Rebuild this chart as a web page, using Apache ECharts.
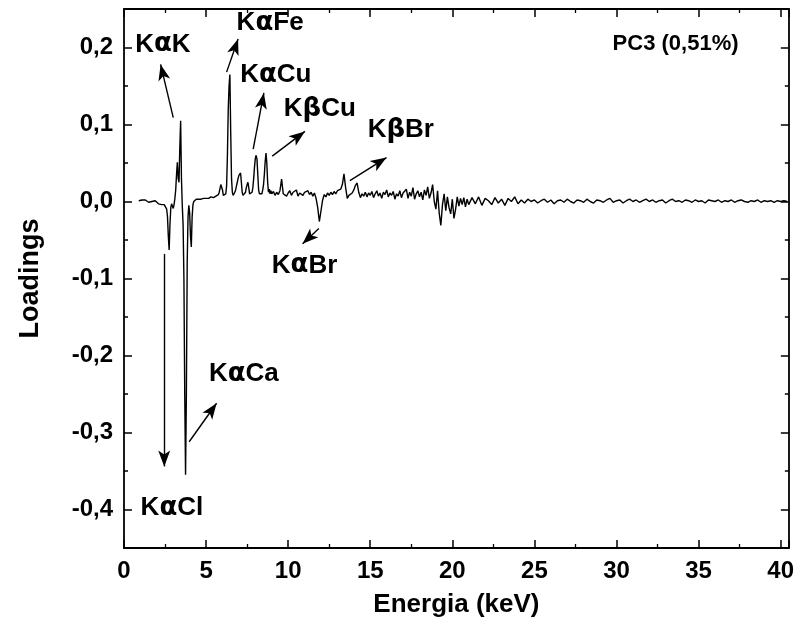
<!DOCTYPE html>
<html lang="en">
<head>
<meta charset="UTF-8">
<title>PC3 loadings</title>
<script src="https://cdn.jsdelivr.net/npm/echarts@6/dist/echarts.min.js"></script>
<style>body{margin:0;background:#fff;}</style>
</head>
<body>
<div id="main" style="width:797px;height:634px;"></div>
<script>
// spectrum in four pieces (start energy, step in keV, loadings)
const startA = 0.9, stepA = 0.1;
const loadingsA = [0.001, -0.001, 0.002, 0.000, 0.002, 0.001, -0.001, 0.001, 0.000, -0.002,
    0.001, 0.000, -0.003, -0.002, -0.004];

const startB = 2.35, stepB = 0.05;
const loadingsB = [
    -0.003, -0.002, -0.004, -0.003, -0.006, -0.010, -0.020, -0.045, -0.063, -0.030,
    -0.008, -0.003, -0.005, -0.009, -0.004, 0.004, 0.015, 0.035, 0.051, 0.030,
    0.025, 0.070, 0.105, 0.030, -0.005, -0.030, -0.100, -0.250, -0.355, -0.250,
    -0.080, -0.020, -0.005, -0.015, -0.045, -0.059, -0.020, -0.004, 0.000, 0.002,
    0.001, 0.003, 0.002, 0.004, 0.003, 0.001, 0.004, 0.003, 0.005, 0.002,
    0.004, 0.003, 0.005, 0.004, 0.002, 0.006, 0.004, 0.005, 0.003, 0.006,
    0.004, 0.007, 0.005, 0.006, 0.004, 0.007, 0.006, 0.008, 0.009, 0.012,
    0.017, 0.022, 0.023, 0.015, 0.008, 0.006, 0.007, 0.010, 0.020, 0.060,
    0.120, 0.150, 0.165, 0.090, 0.030, 0.012, 0.008, 0.010, 0.012, 0.015,
    0.020, 0.025, 0.030, 0.034, 0.035, 0.037, 0.025, 0.012, 0.008, 0.010,
    0.009, 0.012, 0.018, 0.022, 0.025, 0.018, 0.010, 0.008, 0.010, 0.012,
    0.018, 0.030, 0.045, 0.056, 0.060, 0.055, 0.035, 0.015, 0.010, 0.008,
    0.012, 0.010, 0.015, 0.022, 0.035, 0.052, 0.063, 0.050, 0.025, 0.012,
    0.016, 0.010, 0.014, 0.010
];

const startC = 9.1, stepC = 0.1;
const loadingsC = [
    0.013, 0.008, 0.012, 0.009, 0.014, 0.029, 0.010, 0.012, 0.007, 0.011,
    0.014, 0.008, 0.012, 0.010, 0.015, 0.007, 0.011, 0.013, 0.008, 0.012,
    0.010, 0.014, 0.009, 0.012, 0.007, 0.011, 0.004, -0.008, -0.026, -0.012,
    0.002, 0.009, 0.006, 0.011, 0.008, 0.012, 0.009, 0.013, 0.010, 0.014,
    0.012, 0.016, 0.022, 0.036, 0.018, 0.004, 0.008, 0.006, 0.011, 0.015,
    0.021, 0.024, 0.012, 0.005, 0.010, 0.007, 0.012, 0.006, 0.011, 0.008,
    0.013, 0.005, 0.010, 0.014, 0.007, 0.011, 0.004, 0.012, 0.009, 0.015,
    0.006, 0.011, 0.008, 0.013, 0.003, 0.010, 0.007, 0.014, 0.005, 0.011,
    0.009, 0.016, 0.004, 0.012, 0.007, 0.018, 0.003, 0.010, 0.014, 0.006,
    0.012, 0.002, 0.015, 0.008, 0.019, 0.004, 0.011, 0.022, 0.000, -0.010,
    0.014, -0.015, -0.031, -0.004, 0.010, -0.012, 0.006, -0.008, -0.016, 0.003,
    -0.022, -0.010, 0.006, -0.006, 0.004, -0.004, 0.005, -0.007, 0.003, -0.004
];

const startD = 21.2, stepD = 0.2;
const loadingsD = [
    0.005, -0.003, 0.006, -0.005, 0.004, 0.001, -0.004, 0.005, -0.002, 0.003,
    -0.005, 0.004, 0.000, 0.006, -0.003, 0.002, -0.002, 0.003, 0.000, 0.002,
    -0.002, 0.001, 0.003, -0.001, 0.002, -0.003, 0.001, 0.002, -0.001, 0.003,
    0.000, -0.002, 0.002, 0.001, -0.001, 0.003, 0.000, -0.002, 0.002, 0.001,
    -0.001, 0.002, 0.004, -0.001, 0.001, 0.002, -0.002, 0.001, 0.003, 0.000,
    0.002, -0.001, 0.001, 0.003, 0.000, 0.002, -0.001, 0.001, 0.002, -0.002,
    0.001, 0.003, 0.000, 0.001, -0.001, 0.002, 0.001, -0.001, 0.002, 0.000,
    0.001, -0.002, 0.002, 0.001, 0.000, 0.002, -0.001, 0.001, 0.000, 0.002,
    -0.001, 0.001, 0.002, 0.000, -0.001, 0.001, 0.000, 0.002, -0.001, 0.001,
    0.000, 0.001, -0.001, 0.001, 0.000, 0.001, 0.000
];

// axis ticks
const xTicks = [0, 5, 10, 15, 20, 25, 30, 35, 40];
const yTicks = [-0.4, -0.3, -0.2, -0.1, 0.0, 0.1, 0.2];
const yMinorTicks = [-0.35, -0.25, -0.15, -0.05, 0.05, 0.15];

// peak labels: text, energy, loading (where the text is centred)
const peakLabels = [
    ['K{a|α}K', 2.37, 0.204],
    ['K{a|α}Fe', 8.9, 0.232],
    ['K{a|α}Cu', 9.25, 0.164],
    ['K{a|β}Cu', 11.93, 0.12],
    ['K{a|β}Br', 16.86, 0.093],
    ['K{a|α}Br', 11.0, -0.083],
    ['K{a|α}Ca', 7.3, -0.224],
    ['K{a|α}Cl', 2.92, -0.398]
];
const panelLabel = ['PC3 (0,51%)', 33.6, 0.205];

// arrows: from (energy, loading) to (energy, loading)
const arrows = [
    [3.0, 0.109, 2.23, 0.178],
    [6.25, 0.168, 6.95, 0.211],
    [7.87, 0.068, 8.52, 0.141],
    [9.03, 0.059, 11.02, 0.091],
    [13.76, 0.027, 15.99, 0.057],
    [11.87, -0.035, 10.88, -0.055],
    [2.45, -0.068, 2.45, -0.344],
    [3.97, -0.312, 5.64, -0.262]
];

const points = [];
[[startA, stepA, loadingsA], [startB, stepB, loadingsB],
 [startC, stepC, loadingsC], [startD, stepD, loadingsD]].forEach(function (seg) {
    seg[2].forEach(function (v, i) {
        points.push([+(seg[0] + i * seg[1]).toFixed(2), v]);
    });
});

const font = 'Liberation Sans, Arial, sans-serif';
const black = '#000';

function fmtY(v) {
    return v.toFixed(1).replace('.', ',');
}

function xAxisOf(pos, withLabels) {
    return {
        type: 'value', position: pos, min: 0, max: 40.5, interval: 5,
        axisLine: {show: true, onZero: false, lineStyle: {color: black, width: 1.8}},
        axisTick: {show: true, inside: true, length: 8, lineStyle: {color: black, width: 1.5}},
        minorTick: {show: true, splitNumber: 2, length: 4, lineStyle: {color: black, width: 1.3}},
        axisLabel: {
            show: withLabels, margin: 11, color: black, fontSize: 24, fontWeight: 'bold', fontFamily: font,
            customValues: xTicks
        },
        splitLine: {show: false},
        name: withLabels ? 'Energia (keV)' : '',
        nameLocation: 'middle', nameGap: 44,
        nameTextStyle: {color: black, fontSize: 26, fontWeight: 'bold', fontFamily: font}
    };
}

function yAxisOf(pos, ticks, len, showLine, withLabels) {
    return {
        type: 'value', position: pos, min: -0.45, max: 0.25,
        axisLine: {show: showLine, onZero: false, lineStyle: {color: black, width: 1.8}},
        axisTick: {show: true, inside: true, length: len, customValues: ticks, lineStyle: {color: black, width: 1.5}},
        axisLabel: {
            show: withLabels, margin: 11, color: black, fontSize: 24, fontWeight: 'bold', fontFamily: font,
            customValues: ticks, formatter: fmtY
        },
        splitLine: {show: false},
        name: withLabels ? 'Loadings' : '',
        nameLocation: 'middle', nameGap: 80,
        nameTextStyle: {color: black, fontSize: 27, fontWeight: 'bold', fontFamily: font}
    };
}

var myChart = echarts.init(document.getElementById('main'));

let option = {
    animation: false,
    backgroundColor: '#fff',
    grid: {left: 124, right: 7, top: 9, bottom: 86, containLabel: false},
    xAxis: [xAxisOf('bottom', true), xAxisOf('top', false)],
    yAxis: [
        yAxisOf('left', yTicks, 8, true, true),
        yAxisOf('right', yTicks, 8, true, false),
        yAxisOf('left', yMinorTicks, 4, false, false),
        yAxisOf('right', yMinorTicks, 4, false, false)
    ],
    series: [
        {
            type: 'line',
            xAxisIndex: 0,
            yAxisIndex: 0,
            data: points,
            showSymbol: false,
            sampling: 'none',
            lineStyle: {color: black, width: 1.4},
            silent: true,
            markLine: {
                silent: true,
                symbol: ['none', 'arrow'],
                symbolSize: [9, 16],
                label: {show: false},
                lineStyle: {color: black, width: 1.4, type: 'solid'},
                itemStyle: {color: black},
                data: arrows.map(function (a) {
                    return [{coord: [a[0], a[1]]}, {coord: [a[2], a[3]]}];
                })
            },
            markPoint: {
                silent: true,
                symbol: 'circle',
                symbolSize: 0,
                label: {
                    show: true, position: 'inside', color: black,
                    fontSize: 26, fontWeight: 'bold', fontFamily: font,
                    formatter: function (p) { return p.name; },
                    rich: {
                        a: {fontSize: 26, fontWeight: 'bold', fontFamily: 'DejaVu Sans', color: black}
                    }
                },
                data: peakLabels.map(function (l) {
                    return {name: l[0], coord: [l[1], l[2]]};
                }).concat([{
                    name: panelLabel[0], coord: [panelLabel[1], panelLabel[2]],
                    label: {fontSize: 22}
                }])
            }
        }
    ]
};

myChart.setOption(option);
</script>
</body>
</html>
